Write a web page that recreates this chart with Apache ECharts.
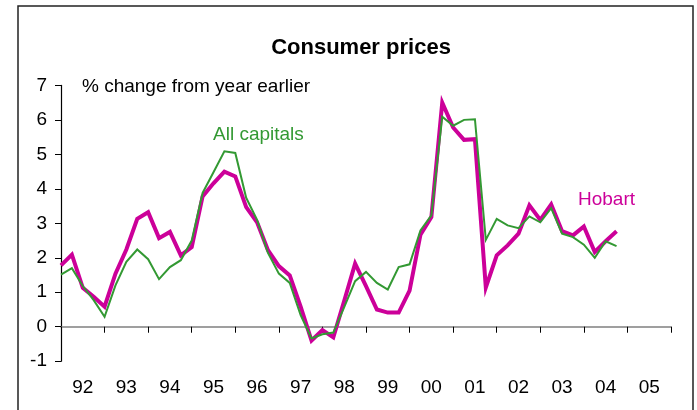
<!DOCTYPE html>
<html>
<head>
<meta charset="utf-8">
<script src="https://cdn.jsdelivr.net/npm/echarts@6/dist/echarts.min.js"></script>
<style>
  html, body { margin: 0; padding: 0; background: #fff; }
  #chart { width: 697px; height: 410px; }
</style>
</head>
<body>
<div id="chart"></div>
<script>
// Year labels shown under the axis (one band per calendar year)
const yearLabels = ['92', '93', '94', '95', '96', '97', '98', '99', '00', '01', '02', '03', '04', '05'];

// Quarter-end dates along the axis: Dec-91 through Dec-05
const quarters = ['Dec-91'];
for (let y = 1992; y <= 2005; y++) {
  const yy = String(y).slice(2);
  quarters.push('Mar-' + yy, 'Jun-' + yy, 'Sep-' + yy, 'Dec-' + yy);
}

// CPI, % change from year earlier, Dec-91 to Sep-04
const hobart = [
  1.78, 2.09, 1.13, 0.87, 0.58, 1.54, 2.24, 3.13, 3.32, 2.57, 2.75, 2.07, 2.31,
  3.78, 4.16, 4.50, 4.36, 3.47, 3.03, 2.22, 1.76, 1.49, 0.58, -0.40, -0.10, -0.31,
  0.75, 1.83, 1.18, 0.50, 0.41, 0.41, 1.05, 2.67, 3.18, 6.50, 5.78, 5.42, 5.44,
  1.14, 2.07, 2.36, 2.70, 3.52, 3.10, 3.55, 2.77, 2.65, 2.91, 2.17, 2.48, 2.77
];
const allCapitals = [
  1.51, 1.70, 1.18, 0.77, 0.29, 1.20, 1.88, 2.24, 1.96, 1.38, 1.73, 1.93, 2.50,
  3.88, 4.48, 5.09, 5.04, 3.74, 3.10, 2.14, 1.54, 1.27, 0.34, -0.34, -0.22, -0.17,
  0.57, 1.32, 1.59, 1.27, 1.08, 1.73, 1.81, 2.79, 3.23, 6.09, 5.83, 6.00, 6.02,
  2.52, 3.13, 2.94, 2.86, 3.20, 3.03, 3.44, 2.70, 2.60, 2.38, 2.00, 2.48, 2.34
];

const FONT = '"Liberation Sans", Arial, sans-serif';
const chart = echarts.init(document.getElementById('chart'), null, { renderer: 'canvas' });

chart.setOption({
  animation: false,
  backgroundColor: '#ffffff',
  title: {
    text: 'Consumer prices',
    left: 356,
    textAlign: 'center',
    top: 32,
    textStyle: { fontFamily: FONT, fontSize: 22, fontWeight: 'bold', color: '#000' }
  },
  grid: { left: 61, right: 26, top: 85.4, bottom: 48.8, containLabel: false },
  xAxis: [
    {
      type: 'category',
      data: quarters,
      boundaryGap: false,
      axisLine: { onZero: true, lineStyle: { color: '#808080', width: 1.5 } },
      axisTick: {
        show: true,
        length: 6,
        interval: (i) => i % 4 === 0,
        lineStyle: { color: '#000', width: 1 }
      },
      axisLabel: { show: false },
      splitLine: { show: false }
    },
    {
      type: 'category',
      data: yearLabels,
      position: 'bottom',
      boundaryGap: true,
      axisLine: { show: false, onZero: false },
      axisTick: { show: false },
      axisLabel: { margin: 17, fontFamily: FONT, fontSize: 19, color: '#000' },
      splitLine: { show: false }
    }
  ],
  yAxis: {
    type: 'value',
    min: -1,
    max: 7,
    interval: 1,
    axisLine: { show: true, lineStyle: { color: '#000', width: 1.2 } },
    axisTick: { show: true, length: 6, lineStyle: { color: '#000' } },
    axisLabel: { margin: 14, fontFamily: FONT, fontSize: 19, color: '#000' },
    splitLine: { show: false }
  },
  series: [
    {
      name: 'Hobart',
      type: 'line',
      xAxisIndex: 0,
      data: hobart,
      showSymbol: false,
      lineStyle: { color: '#cc0099', width: 4, join: 'miter' },
      z: 2
    },
    {
      name: 'All capitals',
      type: 'line',
      xAxisIndex: 0,
      data: allCapitals,
      showSymbol: false,
      lineStyle: { color: '#339933', width: 2, join: 'miter' },
      z: 3
    }
  ],
  graphic: [
    {
      type: 'rect',
      shape: { x: 18, y: 6, width: 675, height: 420 },
      style: { fill: 'none', stroke: '#222', lineWidth: 1.5 },
      silent: true
    },
    {
      type: 'text',
      left: 82, top: 77,
      style: { text: '% change from year earlier', fontFamily: FONT, fontSize: 19, fill: '#000' }
    },
    {
      type: 'text',
      left: 213, top: 125,
      style: { text: 'All capitals', fontFamily: FONT, fontSize: 19, fill: '#339933' }
    },
    {
      type: 'text',
      left: 578, top: 190,
      style: { text: 'Hobart', fontFamily: FONT, fontSize: 19, fill: '#cc0099' }
    }
  ]
});
</script>
</body>
</html>
